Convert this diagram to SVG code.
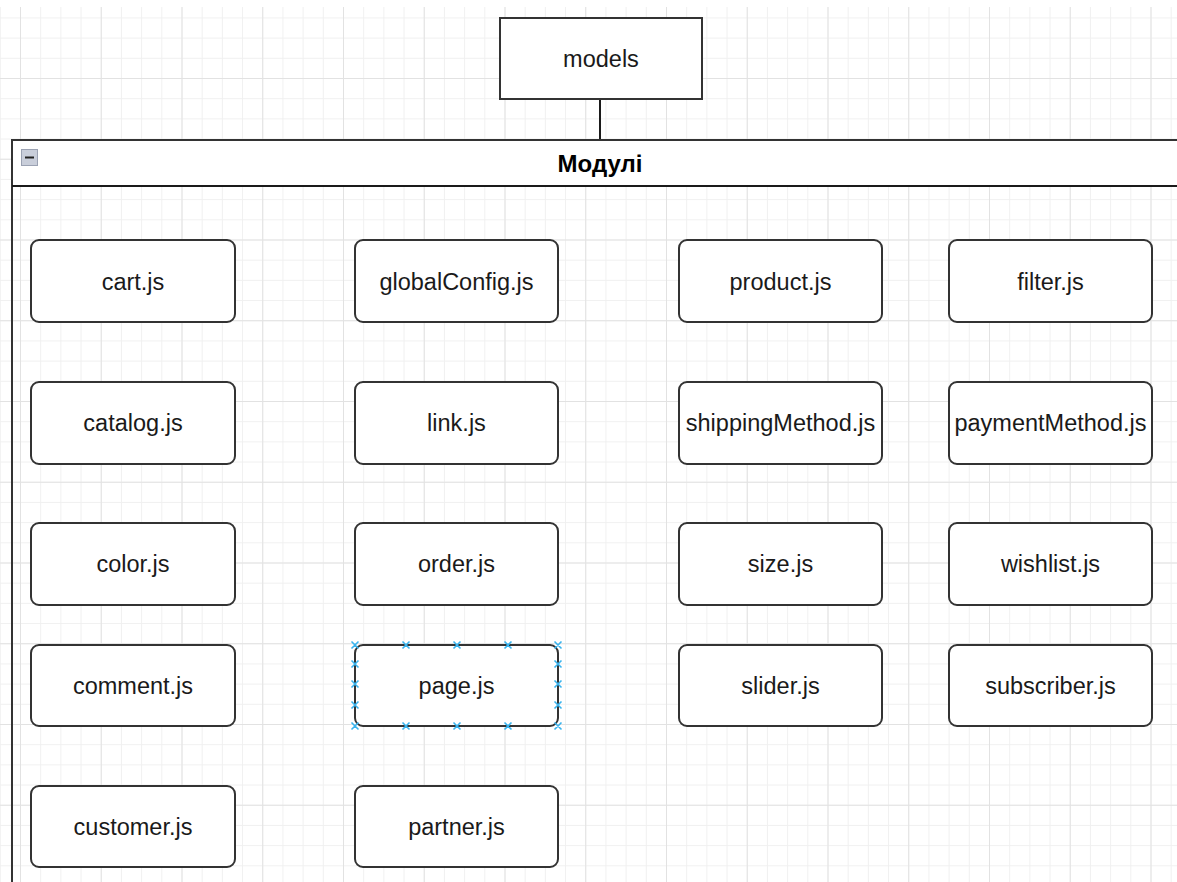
<svg xmlns="http://www.w3.org/2000/svg" width="1177" height="882" viewBox="0 0 1177 882">
  <defs>
    <pattern id="minor" patternUnits="userSpaceOnUse" x="20" y="-2.75" width="20.1875" height="20.1875">
      <path d="M0.5 0 V20.1875 M0 0.5 H20.1875" stroke="#f0f0f0" stroke-width="1" fill="none"/>
    </pattern>
    <pattern id="major" patternUnits="userSpaceOnUse" x="20" y="-2.75" width="80.75" height="80.75">
      <path d="M0.5 0 V80.75 M0 0.5 H80.75" stroke="#e2e2e2" stroke-width="1" fill="none"/>
    </pattern>
    <style>
      .node rect { fill: #ffffff; stroke: #333333; stroke-width: 2; }
      .node text { font-family: "Liberation Sans", Arial, sans-serif; font-size: 23.5px; fill: #1a1a1a; text-anchor: middle; }
      .hdr { font-family: "Liberation Sans", Arial, sans-serif; font-size: 24px; font-weight: bold; fill: #000000; text-anchor: middle; }
      .conn { stroke: #1a1a1a; stroke-width: 2; fill: none; }
      .sel path { stroke: #3ab4ee; stroke-width: 1.6; fill: none; }
    </style>
  </defs>
  <rect x="0" y="0" width="1177" height="882" fill="#ffffff"/>
  <rect x="0" y="7" width="1177" height="875" fill="url(#minor)"/>
  <rect x="0" y="7" width="1177" height="875" fill="url(#major)"/>

  <g id="connectors">
    <path class="conn" d="M600 99 V140"/>
  </g>

  <g id="models" class="node">
    <rect x="500" y="18" width="202" height="81" rx="0"/>
    <text x="601" y="66.5">models</text>
  </g>

  <g id="container">
    <rect x="12" y="140" width="1200" height="46" fill="#ffffff" stroke="none"/>
    <path d="M12 900 V140 H1180" stroke="#333333" stroke-width="2" fill="none"/>
    <path d="M12 186 H1180" stroke="#1a1a1a" stroke-width="2" fill="none"/>
    <rect x="21.5" y="149.5" width="16" height="16" fill="#c9ceda" stroke="#9ba2b3" stroke-width="1"/>
    <path d="M25 157.5 H34" stroke="#222222" stroke-width="2"/>
    <text class="hdr" x="600" y="172">Модулі</text>
  </g>

  <g id="cart" class="node"><rect x="31" y="240" width="204" height="82" rx="8"/><text x="133" y="289.5">cart.js</text></g>
  <g id="globalConfig" class="node"><rect x="355" y="240" width="203" height="82" rx="8"/><text x="456.5" y="289.5">globalConfig.js</text></g>
  <g id="product" class="node"><rect x="679" y="240" width="203" height="82" rx="8"/><text x="780.5" y="289.5">product.js</text></g>
  <g id="filter" class="node"><rect x="949" y="240" width="203" height="82" rx="8"/><text x="1050.5" y="289.5">filter.js</text></g>

  <g id="catalog" class="node"><rect x="31" y="382" width="204" height="82" rx="8"/><text x="133" y="430.5">catalog.js</text></g>
  <g id="link" class="node"><rect x="355" y="382" width="203" height="82" rx="8"/><text x="456.5" y="430.5">link.js</text></g>
  <g id="shippingMethod" class="node"><rect x="679" y="382" width="203" height="82" rx="8"/><text x="780.5" y="430.5">shippingMethod.js</text></g>
  <g id="paymentMethod" class="node"><rect x="949" y="382" width="203" height="82" rx="8"/><text x="1050.5" y="430.5">paymentMethod.js</text></g>

  <g id="color" class="node"><rect x="31" y="523" width="204" height="82" rx="8"/><text x="133" y="571.5">color.js</text></g>
  <g id="order" class="node"><rect x="355" y="523" width="203" height="82" rx="8"/><text x="456.5" y="571.5">order.js</text></g>
  <g id="size" class="node"><rect x="679" y="523" width="203" height="82" rx="8"/><text x="780.5" y="571.5">size.js</text></g>
  <g id="wishlist" class="node"><rect x="949" y="523" width="203" height="82" rx="8"/><text x="1050.5" y="571.5">wishlist.js</text></g>

  <g id="comment" class="node"><rect x="31" y="645" width="204" height="81" rx="8"/><text x="133" y="693.5">comment.js</text></g>
  <g id="page" class="node"><rect x="355" y="645" width="203" height="81" rx="8"/><text x="456.5" y="693.5">page.js</text></g>
  <g id="slider" class="node"><rect x="679" y="645" width="203" height="81" rx="8"/><text x="780.5" y="693.5">slider.js</text></g>
  <g id="subscriber" class="node"><rect x="949" y="645" width="203" height="81" rx="8"/><text x="1050.5" y="693.5">subscriber.js</text></g>

  <g id="customer" class="node"><rect x="31" y="786" width="204" height="81" rx="8"/><text x="133" y="834.5">customer.js</text></g>
  <g id="partner" class="node"><rect x="355" y="786" width="203" height="81" rx="8"/><text x="456.5" y="834.5">partner.js</text></g>

  <g id="page-selection" class="sel">
    <path d="M351.5 641.5 l7 7 m0 -7 l-7 7 M402.5 641.5 l7 7 m0 -7 l-7 7 M453.5 641.5 l7 7 m0 -7 l-7 7 M504.5 641.5 l7 7 m0 -7 l-7 7 M554.5 641.5 l7 7 m0 -7 l-7 7"/>
    <path d="M351.5 722.5 l7 7 m0 -7 l-7 7 M402.5 722.5 l7 7 m0 -7 l-7 7 M453.5 722.5 l7 7 m0 -7 l-7 7 M504.5 722.5 l7 7 m0 -7 l-7 7 M554.5 722.5 l7 7 m0 -7 l-7 7"/>
    <path d="M351.5 660.5 l7 7 m0 -7 l-7 7 M351.5 680.5 l7 7 m0 -7 l-7 7 M351.5 701.5 l7 7 m0 -7 l-7 7"/>
    <path d="M554.5 660.5 l7 7 m0 -7 l-7 7 M554.5 680.5 l7 7 m0 -7 l-7 7 M554.5 701.5 l7 7 m0 -7 l-7 7"/>
  </g>
</svg>
